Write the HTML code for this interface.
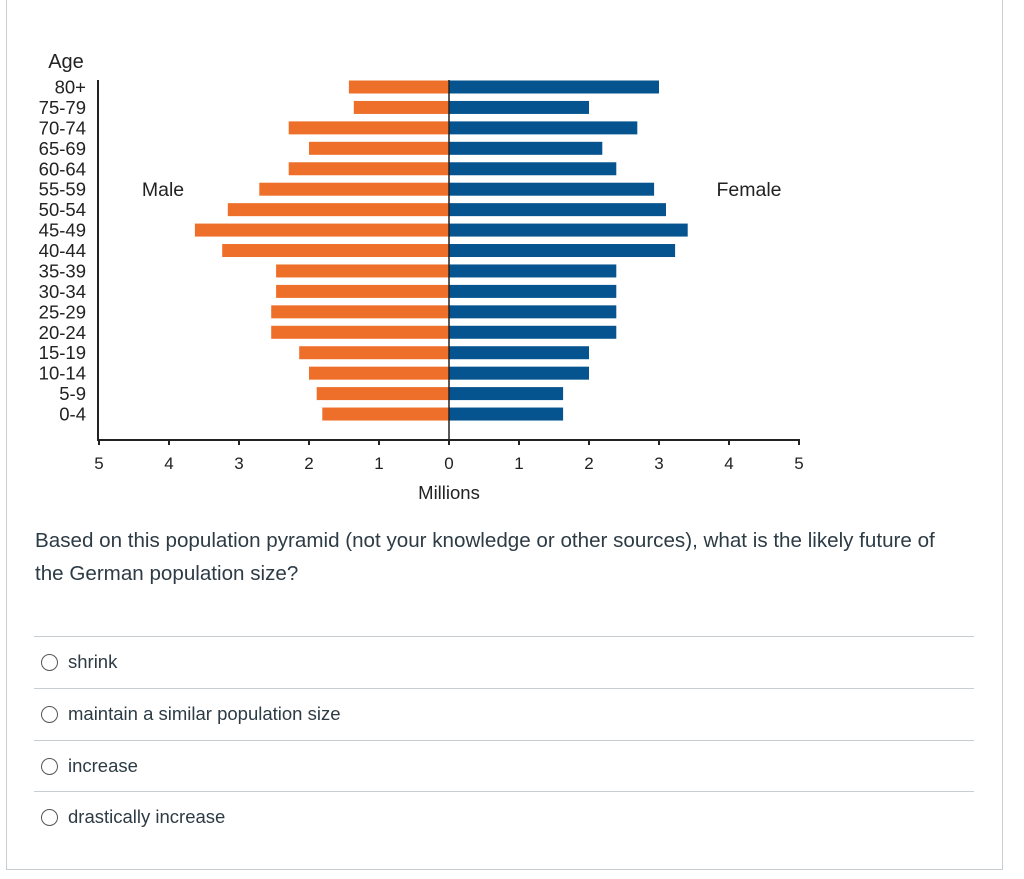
<!DOCTYPE html>
<html><head><meta charset="utf-8"><style>
body{margin:0;background:#fff;font-family:"Liberation Sans",sans-serif;}
#frame{position:absolute;left:6px;top:-2px;width:995px;height:870px;border:1px solid #c7cdd1;}
.q{position:absolute;left:35px;top:524px;width:920px;font-size:20.6px;color:#2d3b45;line-height:33px;}
.opt{position:absolute;left:34px;width:940px;border-top:1px solid #c7cdd1;height:51px;}
.opt span{position:absolute;left:34px;top:14px;font-size:18.5px;color:#2d3b45;}
.opt i{position:absolute;left:7px;top:17px;width:15px;height:15px;border:1px solid #555;border-radius:50%;}
</style></head><body>
<div id="frame"></div>
<svg id="chart" width="1024" height="520" style="position:absolute;left:0;top:0" font-family="Liberation Sans, sans-serif"></svg>
<div class="q">Based on this population pyramid (not your knowledge or other sources), what is the likely future of the German population size?</div>
<div class="opt" style="top:636px"><i></i><span>shrink</span></div>
<div class="opt" style="top:688px"><i></i><span>maintain a similar population size</span></div>
<div class="opt" style="top:740px"><i></i><span>increase</span></div>
<div class="opt" style="top:791px"><i></i><span>drastically increase</span></div>
<script>
const ages=["80+","75-79","70-74","65-69","60-64","55-59","50-54","45-49","40-44","35-39","30-34","25-29","20-24","15-19","10-14","5-9","0-4"];
const male=[1.43,1.36,2.29,2.0,2.29,2.71,3.16,3.63,3.24,2.47,2.47,2.54,2.54,2.14,2.0,1.89,1.81];
const female=[3.0,2.0,2.69,2.19,2.39,2.93,3.1,3.41,3.23,2.39,2.39,2.39,2.39,2.0,2.0,1.63,1.63];
const ticks=[5,4,3,2,1,0,1,2,3,4,5];
const svg=document.getElementById('chart');
const NS='http://www.w3.org/2000/svg';
const X0=449,U=70,Y0=87,P=20.44,BH=13;
const xs=v=>X0+v*U;
const yc=i=>Y0+i*P;
function mk(t,a,txt){const e=document.createElementNS(NS,t);for(const k in a)e.setAttribute(k,a[k]);if(txt!=null)e.textContent=txt;svg.appendChild(e);return e;}
ages.forEach((a,i)=>{
 let r=mk('rect',{x:xs(-male[i]),y:yc(i)-BH/2,width:male[i]*U,height:BH,fill:'#ee6f2a'});
 
 
 let b=mk('rect',{x:X0,y:yc(i)-BH/2,width:female[i]*U,height:BH,fill:'#06548f'});
 
 
 let t=mk('text',{x:86,y:yc(i)+6.5,'text-anchor':'end','font-size':18.5,fill:'#222'},a);
 
 
});
mk('line',{x1:98,y1:80,x2:98,y2:440,stroke:'#222','stroke-width':2});
mk('line',{x1:97,y1:440,x2:800,y2:440,stroke:'#222','stroke-width':2});
mk('line',{x1:X0,y1:80,x2:X0,y2:440,stroke:'#222','stroke-width':1.5});
ticks.forEach((v,i)=>{
 const x=xs(i<5?-v:v);
 mk('line',{x1:x,y1:440,x2:x,y2:445,stroke:'#222','stroke-width':2});
 let t=mk('text',{x:x,y:469,'text-anchor':'middle','font-size':17,fill:'#222'},v);
 
 
});
let t1=mk('text',{x:66,y:68,'text-anchor':'middle','font-size':20,fill:'#222'},'Age');

let t2=mk('text',{x:449,y:499,'text-anchor':'middle','font-size':18.5,fill:'#222'},'Millions');

let t3=mk('text',{x:163,y:196,'text-anchor':'middle','font-size':19.5,fill:'#222'},'Male');

let t4=mk('text',{x:749,y:196,'text-anchor':'middle','font-size':19.5,fill:'#222'},'Female');

</script>
</body></html>
